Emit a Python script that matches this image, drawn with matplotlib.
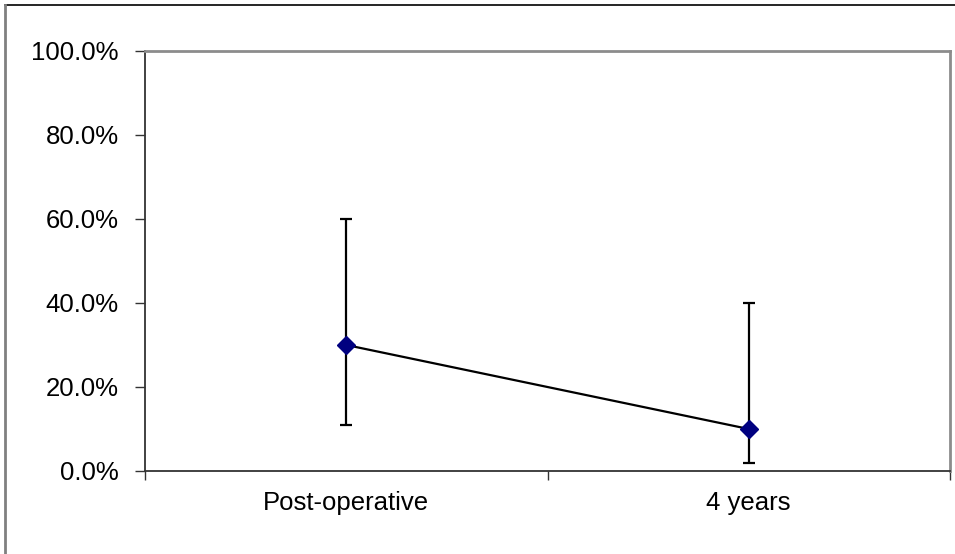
import matplotlib
matplotlib.use("Agg")
import matplotlib.pyplot as plt
from matplotlib.lines import Line2D
from matplotlib.ticker import FuncFormatter

plt.rcParams['font.family'] = ['Liberation Sans', 'DejaVu Sans']

categories = ["Post-operative", "4 years"]
values = [30.0, 10.0]
upper = [60.0, 40.0]
lower = [11.0, 2.0]
y_ticks = [0, 20, 40, 60, 80, 100]

W, H = 955, 554
fig = plt.figure(figsize=(W / 100, H / 100), dpi=100)
ax = fig.add_axes([145 / W, (H - 471) / H, (950 - 145) / W, (471 - 51) / H])

x = list(range(len(categories)))
err_lo = [v - l for v, l in zip(values, lower)]
err_hi = [u - v for u, v in zip(upper, values)]

ax.errorbar(x, values, yerr=[err_lo, err_hi], fmt='none', ecolor='black',
            elinewidth=1.6, capsize=4.5, capthick=1.6, zorder=2)
ax.plot(x, values, color='black', linewidth=1.6, zorder=3)
ax.plot(x, values, linestyle='none', marker='D', markersize=9.5,
        markerfacecolor='#000080', markeredgecolor='#000080', zorder=4)

ax.set_xlim(-0.5, len(categories) - 0.5)
ax.set_ylim(0, 100)
ax.set_yticks(y_ticks)
ax.yaxis.set_major_formatter(FuncFormatter(lambda v, p: f"{v:.1f}%"))

# category boundaries carry the x ticks; labels sit at category centres
ax.set_xticks([i - 0.5 for i in range(len(categories) + 1)])
ax.set_xticklabels([])
ax.set_xticks(x, minor=True)
ax.set_xticklabels(categories, minor=True)
ax.tick_params(axis='x', which='minor', length=0, pad=14.5, labelsize=18.5)
ax.tick_params(axis='x', which='major', direction='out', length=6.5,
               width=1, color='#333333')
ax.tick_params(axis='y', direction='out', length=7, width=1,
               color='#333333', pad=12, labelsize=18.5)

for side in ('left', 'bottom'):
    ax.spines[side].set_color('#333333')
    ax.spines[side].set_linewidth(1.3)
for side in ('top', 'right'):
    ax.spines[side].set_color('#8c8c8c')
    ax.spines[side].set_linewidth(2.0)

# outer chart border
fig.add_artist(Line2D([5 / W, 1], [1 - 5 / H, 1 - 5 / H], color='black',
                      linewidth=1.2, transform=fig.transFigure))
fig.add_artist(Line2D([5 / W, 5 / W], [0, 1 - 5 / H], color='#808080',
                      linewidth=2.0, transform=fig.transFigure))

fig.savefig("out.png", dpi=100)
